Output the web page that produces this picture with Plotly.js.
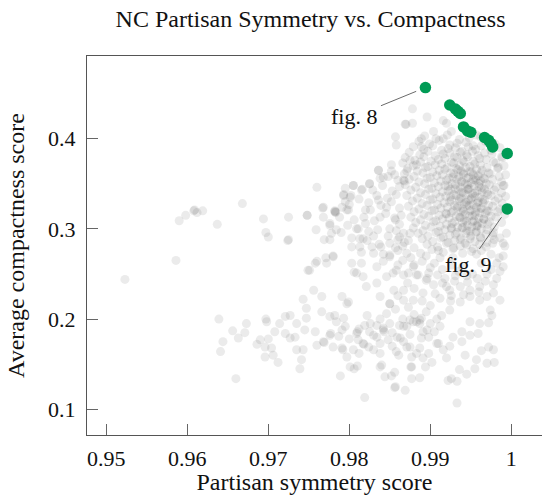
<!DOCTYPE html>
<html>
<head>
<meta charset="utf-8">
<script src="https://cdn.plot.ly/plotly-3.0.1.min.js"></script>
<style>html,body{margin:0;padding:0;background:#fff;}#chart{width:542px;height:495px;}</style>
</head>
<body>
<div id="chart"></div>
<script>
// ---- Data: [partisan symmetry score, average compactness score] per sampled plan ----
const leftTail = [
[0.9523,0.244],[0.9586,0.265],[0.9590,0.309],[0.9598,0.315],[0.9608,0.320],[0.9609,0.321],[0.9612,0.318],[0.9619,0.320],
[0.9637,0.305],[0.9668,0.328],[0.9694,0.311],[0.9697,0.296],[0.9700,0.291],[0.9724,0.287],[0.9725,0.288],[0.9725,0.313],
[0.9748,0.315],[0.9760,0.346],[0.9767,0.323],[0.9768,0.313],[0.9759,0.299],[0.9751,0.254],[0.9758,0.262],[0.9771,0.268],
[0.9780,0.270],[0.9776,0.288],[0.9769,0.288],[0.9778,0.295],[0.9784,0.299],[0.9776,0.306],[0.9783,0.319],[0.9782,0.320],
[0.9791,0.324],[0.9799,0.321],[0.9793,0.338],[0.9802,0.337],[0.9805,0.348],[0.9816,0.344],[0.9825,0.350],[0.9836,0.365],
[0.9852,0.371],[0.9809,0.300],[0.9817,0.289],[0.9813,0.280],[0.9803,0.262],[0.9806,0.252],[0.9817,0.247],[0.9830,0.273],
[0.9839,0.280],[0.9842,0.264],[0.9850,0.271],[0.9860,0.276],[0.9867,0.249],[0.9885,0.249],[0.9791,0.225],[0.9797,0.217],
[0.9799,0.219],[0.9756,0.232],[0.9766,0.225],[0.9743,0.222],[0.9747,0.212],[0.9766,0.208],[0.9776,0.203],[0.9782,0.204],
[0.9793,0.201],[0.9821,0.236],[0.9838,0.225],[0.9850,0.217],[0.9867,0.221]
];
const lowerBand = [
[0.9639,0.200],[0.9660,0.134],[0.9641,0.164],[0.9644,0.175],[0.9656,0.187],[0.9663,0.179],[0.9671,0.185],[0.9673,0.195],
[0.9686,0.172],[0.9690,0.177],[0.9696,0.169],[0.9696,0.158],[0.9700,0.178],[0.9697,0.200],[0.9698,0.197],[0.9704,0.168],
[0.9706,0.160],[0.9712,0.152],[0.9708,0.186],[0.9714,0.195],[0.9721,0.203],[0.9727,0.204],[0.9721,0.184],[0.9727,0.179],
[0.9733,0.180],[0.9735,0.195],[0.9735,0.166],[0.9741,0.155],[0.9739,0.145],[0.9743,0.166],[0.9745,0.188],[0.9747,0.201],
[0.9758,0.186],[0.9760,0.171],[0.9768,0.175],[0.9769,0.174],[0.9776,0.182],[0.9777,0.184],[0.9780,0.169],[0.9784,0.197],
[0.9791,0.188],[0.9791,0.168],[0.9792,0.166],[0.9797,0.158],[0.9801,0.147],[0.9809,0.184],[0.9810,0.186],[0.9811,0.177],
[0.9817,0.173],[0.9818,0.172],[0.9805,0.166],[0.9819,0.193],[0.9826,0.195],[0.9830,0.182],[0.9838,0.173],[0.9842,0.188],
[0.9843,0.186],[0.9850,0.195],[0.9846,0.206],[0.9859,0.180],[0.9867,0.175],[0.9871,0.192],[0.9879,0.197],[0.9887,0.195],
[0.9896,0.188],[0.9830,0.166],[0.9838,0.162],[0.9861,0.160],[0.9875,0.169],[0.9883,0.162],[0.9891,0.157],[0.9838,0.147],
[0.9844,0.136],[0.9852,0.137],[0.9856,0.141],[0.9877,0.147],[0.9877,0.134],[0.9887,0.135],[0.9856,0.124],[0.9857,0.125],
[0.9869,0.121],[0.9819,0.113],[0.9789,0.137],[0.9806,0.145],[0.9810,0.148],[0.9908,0.173],[0.9916,0.166],[0.9922,0.132],
[0.9812,0.189],[0.9825,0.186],[0.9800,0.178],[0.9787,0.181],[0.9795,0.192],[0.9834,0.193],[0.9853,0.185],[0.9862,0.193],
[0.9875,0.183],[0.9889,0.179],[0.9898,0.180],[0.9905,0.186],[0.9853,0.170],[0.9824,0.169],[0.9812,0.162],[0.9866,0.200],
[0.9880,0.205],[0.9895,0.208],[0.9908,0.200],[0.9838,0.200],[0.9822,0.204],[0.9857,0.211],[0.9873,0.213],[0.9900,0.215]
];
const lowerRight = [
[0.9933,0.107],[0.9840,0.149],[0.9876,0.147],[0.9894,0.147],[0.9902,0.152],[0.9926,0.134],[0.9933,0.131],[0.9936,0.144],
[0.9945,0.139],[0.9955,0.145],[0.9957,0.155],[0.9970,0.151],[0.9979,0.152],[0.9972,0.169],[0.9978,0.166],[0.9963,0.165],
[0.9943,0.160],[0.9920,0.157],[0.9910,0.173],[0.9924,0.170],[0.9939,0.175],[0.9949,0.182],[0.9959,0.184],[0.9939,0.186],
[0.9928,0.180],[0.9949,0.197],[0.9961,0.195],[0.9972,0.196],[0.9974,0.210],[0.9976,0.204],[0.9986,0.221],[0.9978,0.229],
[0.9961,0.221],[0.9949,0.225],[0.9937,0.219],[0.9924,0.210],[0.9914,0.204],[0.9912,0.192],[0.9900,0.195],[0.9891,0.186],
[0.9883,0.197],[0.9875,0.199],[0.9867,0.192],[0.9863,0.179],[0.9842,0.190],[0.9848,0.177],[0.9871,0.169],[0.9887,0.168],
[0.9898,0.162],[0.9877,0.158],[0.9858,0.164]
];
const middleBand = [
[0.9834,0.240],[0.9846,0.247],[0.9858,0.254],[0.9873,0.251],[0.9883,0.249],[0.9867,0.232],[0.9879,0.221],[0.9891,0.229],
[0.9904,0.238],[0.9918,0.245],[0.9924,0.232],[0.9937,0.236],[0.9949,0.232],[0.9961,0.236],[0.9970,0.225],[0.9850,0.217],
[0.9887,0.199],[0.9889,0.201],[0.9834,0.180],[0.9905,0.262],[0.9915,0.255],[0.9928,0.268],[0.9940,0.258],[0.9952,0.250],
[0.9963,0.262],[0.9975,0.255],[0.9982,0.245],[0.9968,0.242],[0.9931,0.248],[0.9895,0.270],[0.9910,0.276],[0.9957,0.272],
[0.9985,0.268],[0.9990,0.258],[0.9946,0.241],[0.9920,0.236],[0.9898,0.251],[0.9978,0.238],[0.9992,0.281],[0.9912,0.223],
[0.9926,0.226],[0.9890,0.220],[0.9860,0.226],[0.9872,0.240],[0.9895,0.243],[0.9862,0.291],[0.9875,0.295],[0.9868,0.285],
[0.9880,0.279],[0.9888,0.273],[0.9876,0.268],[0.9890,0.264],[0.9880,0.260],[0.9866,0.265],[0.9860,0.260],[0.9900,0.257],
[0.9912,0.268],[0.9926,0.260],[0.9896,0.245],[0.9909,0.249],[0.9935,0.253],[0.9915,0.240],[0.9930,0.242],[0.9945,0.248],
[0.9958,0.245],[0.9970,0.250],[0.9982,0.262],[0.9990,0.270],[0.9986,0.253],[0.9960,0.230],[0.9941,0.227],[0.9925,0.220],
[0.9906,0.228],[0.9880,0.234],[0.9855,0.232]
];
const upperShoulder = [
[0.9878,0.433],[0.9896,0.424],[0.9870,0.416],[0.9878,0.417],[0.9904,0.408],[0.9858,0.393],[0.9889,0.391],[0.9875,0.376],
[0.9883,0.371],[0.9871,0.364],[0.9852,0.364],[0.9836,0.365],[0.9838,0.356],[0.9848,0.358],[0.9856,0.360],[0.9867,0.354],
[0.9868,0.353],[0.9825,0.350],[0.9815,0.343],[0.9805,0.348],[0.9795,0.345],[0.9793,0.337],[0.9801,0.335],[0.9768,0.324],
[0.9748,0.315],[0.9782,0.319],[0.9783,0.318],[0.9776,0.304],[0.9797,0.321],[0.9811,0.300],[0.9826,0.321],[0.9836,0.332],
[0.9846,0.324],[0.9838,0.313],[0.9856,0.312],[0.9857,0.310],[0.9824,0.297],[0.9813,0.289],[0.9828,0.280],[0.9850,0.284],
[0.9850,0.300],[0.9867,0.295],[0.9803,0.280],[0.9780,0.269],[0.9760,0.264],[0.9749,0.254],[0.9772,0.262],[0.9815,0.262],
[0.9834,0.258],[0.9850,0.269],[0.9871,0.273],[0.9879,0.258],[0.9854,0.251],[0.9809,0.251],
[0.9829,0.343],[0.9841,0.348],[0.9853,0.342],[0.9862,0.347],[0.9834,0.337],[0.9847,0.334],[0.9858,0.338],[0.9824,0.329],
[0.9839,0.326],[0.9852,0.330],[0.9862,0.323],[0.9818,0.313],[0.9831,0.309],[0.9845,0.317],[0.9862,0.305],[0.9820,0.306],
[0.9835,0.299],[0.9848,0.292],[0.9860,0.288],[0.9806,0.310],[0.9798,0.304],[0.9790,0.296],[0.9803,0.290],[0.9822,0.287],
[0.9837,0.283],[0.9857,0.279],[0.9842,0.357],[0.9860,0.354],[0.9812,0.333],[0.9820,0.321],[0.9800,0.327],[0.9788,0.313],
[0.9795,0.330],[0.9864,0.315],[0.9858,0.298],[0.9830,0.292],[0.9873,0.287],[0.9866,0.281],[0.9815,0.274],[0.9842,0.272]
];
const topScatter = [
[0.9869,0.416],[0.9857,0.402],[0.9889,0.400],[0.9916,0.420],[0.9920,0.417],[0.9926,0.408],[0.9916,0.400],[0.9957,0.404],
[0.9984,0.368],[0.9990,0.348],[0.9994,0.295],[0.9990,0.284]
];
const denseCore = [
[0.9893,0.403],[0.9907,0.400],[0.9921,0.404],[0.9936,0.399],[0.9948,0.401],[0.9962,0.402],
[0.9886,0.397],[0.9899,0.394],[0.9911,0.398],[0.9924,0.393],[0.9933,0.395],[0.9944,0.396],[0.9953,0.392],[0.9968,0.397],[0.9980,0.394],
[0.9879,0.391],[0.9892,0.388],[0.9903,0.392],[0.9914,0.387],[0.9922,0.389],[0.9931,0.390],[0.9939,0.386],[0.9947,0.391],[0.9956,0.388],[0.9963,0.392],[0.9975,0.387],[0.9986,0.390],
[0.9874,0.385],[0.9887,0.382],[0.9897,0.386],[0.9906,0.381],[0.9916,0.383],[0.9924,0.384],[0.9930,0.380],[0.9937,0.385],[0.9945,0.382],[0.9952,0.386],[0.9959,0.381],[0.9967,0.384],[0.9976,0.383],[0.9988,0.380],
[0.9869,0.379],[0.9881,0.376],[0.9892,0.380],[0.9901,0.375],[0.9910,0.377],[0.9918,0.378],[0.9926,0.374],[0.9933,0.379],[0.9940,0.376],[0.9946,0.380],[0.9953,0.375],[0.9961,0.378],[0.9969,0.377],[0.9978,0.374],[0.9989,0.379],
[0.9866,0.373],[0.9879,0.370],[0.9888,0.374],[0.9897,0.369],[0.9906,0.371],[0.9914,0.372],[0.9921,0.368],[0.9929,0.373],[0.9936,0.370],[0.9942,0.374],[0.9949,0.369],[0.9955,0.372],[0.9962,0.371],[0.9970,0.368],[0.9981,0.373],[0.9991,0.370],
[0.9872,0.367],[0.9884,0.364],[0.9894,0.368],[0.9903,0.363],[0.9911,0.365],[0.9918,0.366],[0.9925,0.362],[0.9932,0.367],[0.9938,0.364],[0.9944,0.368],[0.9951,0.363],[0.9957,0.366],[0.9964,0.365],[0.9972,0.362],[0.9983,0.367],
[0.9868,0.361],[0.9880,0.358],[0.9891,0.362],[0.9900,0.357],[0.9908,0.359],[0.9915,0.360],[0.9923,0.356],[0.9929,0.361],[0.9935,0.358],[0.9941,0.362],[0.9947,0.357],[0.9953,0.360],[0.9959,0.359],[0.9966,0.356],[0.9974,0.361],[0.9985,0.358],[0.9993,0.360],
[0.9874,0.355],[0.9886,0.352],[0.9896,0.356],[0.9905,0.351],[0.9913,0.353],[0.9920,0.354],[0.9927,0.350],[0.9933,0.355],[0.9939,0.352],[0.9945,0.356],[0.9950,0.351],[0.9956,0.354],[0.9962,0.353],[0.9969,0.350],[0.9977,0.355],[0.9988,0.352],
[0.9869,0.349],[0.9882,0.346],[0.9893,0.350],[0.9902,0.345],[0.9910,0.347],[0.9918,0.348],[0.9925,0.344],[0.9931,0.349],[0.9937,0.346],[0.9943,0.350],[0.9948,0.345],[0.9954,0.348],[0.9960,0.347],[0.9967,0.344],[0.9973,0.349],[0.9981,0.346],[0.9991,0.348],
[0.9876,0.343],[0.9888,0.340],[0.9898,0.344],[0.9907,0.339],[0.9915,0.341],[0.9922,0.342],[0.9929,0.338],[0.9935,0.343],[0.9941,0.340],[0.9946,0.344],[0.9952,0.339],[0.9958,0.342],[0.9964,0.341],[0.9971,0.338],[0.9979,0.343],[0.9988,0.340],
[0.9871,0.337],[0.9884,0.334],[0.9894,0.338],[0.9903,0.333],[0.9912,0.335],[0.9919,0.336],[0.9926,0.332],[0.9932,0.337],[0.9938,0.334],[0.9944,0.338],[0.9950,0.333],[0.9955,0.336],[0.9961,0.335],[0.9967,0.332],[0.9975,0.337],[0.9984,0.334],[0.9993,0.336],
[0.9878,0.331],[0.9890,0.328],[0.9900,0.332],[0.9909,0.327],[0.9917,0.329],[0.9924,0.330],[0.9930,0.326],[0.9936,0.331],[0.9942,0.328],[0.9947,0.332],[0.9953,0.327],[0.9959,0.330],[0.9965,0.329],[0.9972,0.326],[0.9980,0.331],[0.9989,0.328],
[0.9873,0.325],[0.9886,0.322],[0.9896,0.326],[0.9905,0.321],[0.9913,0.323],[0.9921,0.324],[0.9928,0.320],[0.9934,0.325],[0.9940,0.322],[0.9945,0.326],[0.9951,0.321],[0.9957,0.324],[0.9963,0.323],[0.9970,0.320],[0.9977,0.325],[0.9986,0.322],
[0.9880,0.319],[0.9892,0.316],[0.9902,0.320],[0.9911,0.315],[0.9919,0.317],[0.9926,0.318],[0.9932,0.314],[0.9938,0.319],[0.9943,0.316],[0.9949,0.320],[0.9955,0.315],[0.9961,0.318],[0.9968,0.317],[0.9975,0.314],[0.9983,0.319],[0.9992,0.316],
[0.9876,0.313],[0.9888,0.310],[0.9898,0.314],[0.9907,0.309],[0.9915,0.311],[0.9923,0.312],[0.9930,0.308],[0.9936,0.313],[0.9942,0.310],[0.9948,0.314],[0.9954,0.309],[0.9960,0.312],[0.9966,0.311],[0.9973,0.308],[0.9981,0.313],
[0.9882,0.307],[0.9894,0.304],[0.9904,0.308],[0.9912,0.303],[0.9920,0.305],[0.9927,0.306],[0.9934,0.302],[0.9940,0.307],[0.9946,0.304],[0.9952,0.308],[0.9958,0.303],[0.9964,0.306],[0.9971,0.305],[0.9979,0.302],[0.9988,0.307],
[0.9879,0.301],[0.9891,0.298],[0.9901,0.302],[0.9910,0.297],[0.9918,0.299],[0.9926,0.300],[0.9933,0.296],[0.9939,0.301],[0.9945,0.298],[0.9951,0.302],[0.9957,0.297],[0.9963,0.300],[0.9970,0.299],[0.9978,0.296],
[0.9885,0.295],[0.9897,0.292],[0.9907,0.296],[0.9916,0.291],[0.9924,0.293],[0.9931,0.294],[0.9938,0.290],[0.9944,0.295],[0.9950,0.292],[0.9956,0.296],[0.9962,0.291],[0.9969,0.294],[0.9977,0.293],[0.9986,0.290],
[0.9890,0.289],[0.9903,0.286],[0.9913,0.290],[0.9922,0.285],[0.9930,0.287],[0.9937,0.288],[0.9943,0.284],[0.9949,0.289],[0.9955,0.286],[0.9962,0.290],[0.9970,0.285],[0.9979,0.288],
[0.9896,0.283],[0.9909,0.280],[0.9920,0.284],[0.9929,0.279],[0.9937,0.281],[0.9945,0.282],[0.9953,0.278],[0.9961,0.283],[0.9969,0.280],[0.9977,0.284],
[0.9902,0.277],[0.9916,0.274],[0.9928,0.278],[0.9940,0.273],[0.9951,0.275],[0.9963,0.276],[0.9975,0.272],
[0.9934,0.3655],[0.9941,0.3605],[0.9949,0.3635],[0.9956,0.3565],[0.9962,0.3615],[0.9938,0.3525],[0.9946,0.3485],[0.9953,0.3545],
[0.9960,0.3505],[0.9931,0.3445],[0.9939,0.3405],[0.9947,0.3435],[0.9955,0.3395],[0.9963,0.3455],[0.9936,0.3335],[0.9944,0.3295],
[0.9951,0.3345],[0.9958,0.3285],[0.9965,0.3325],[0.9933,0.3235],[0.9941,0.3195],[0.9948,0.3255],[0.9956,0.3185],[0.9962,0.3225],
[0.9937,0.3125],[0.9945,0.3085],[0.9952,0.3145],[0.9959,0.3065],[0.9966,0.3105],[0.9940,0.3015],[0.9949,0.2975],[0.9957,0.3035],
[0.9925,0.3355],[0.9922,0.3475],[0.9970,0.3405],[0.9972,0.3195],[0.9920,0.3165],[0.9928,0.3575],[0.9967,0.3555],[0.9926,0.3015]
];
// Highlighted (best) plans
const bestSymmetry   = [0.9894,0.9924,0.9931,0.9934,0.9937,0.9941,0.9946,0.9950,0.9967,0.9972,0.9975,0.9977,0.9995,0.9995];
const bestCompactness= [0.4566,0.4373,0.4329,0.4303,0.4278,0.4130,0.4085,0.4071,0.4012,0.3982,0.3946,0.3908,0.3835,0.3221];
// Labelled plans: index into best arrays
const figLabels  = ['fig. 8','fig. 9'];
const figIndex   = [0, 13];
const xTickVals  = [0.95,0.96,0.97,0.98,0.99,1];
const xTickText  = ['0.95','0.96','0.97','0.98','0.99','1'];
const yTickVals  = [0.1,0.2,0.3,0.4];
const yTickText  = ['0.1','0.2','0.3','0.4'];

const allPlans = [].concat(leftTail, lowerBand, lowerRight, middleBand, upperShoulder, topScatter, denseCore);
const symmetry = allPlans.map(p => p[0]);
const compactness = allPlans.map(p => p[1]);

const FONT = 'Liberation Serif, Times New Roman, serif';

const traces = [
  {type:'scatter', mode:'markers', x:symmetry, y:compactness,
   marker:{size:9, color:'rgba(70,70,70,0.105)', line:{width:0}}, hoverinfo:'skip'},
  {type:'scatter', mode:'markers', x:bestSymmetry, y:bestCompactness,
   marker:{size:11.5, color:'#009b55', line:{width:0}}, hoverinfo:'skip'}
];

const labelOffsets = [[-71, 29], [-39, 56]];
const annotations = figLabels.map((t, i) => ({
  x: bestSymmetry[figIndex[i]], y: bestCompactness[figIndex[i]], xref:'x', yref:'y',
  text: t, showarrow:true, arrowhead:0, arrowwidth:1, arrowcolor:'#6a6a6a',
  ax: labelOffsets[i][0], ay: labelOffsets[i][1], standoff:10, borderpad:3,
  font:{family:FONT, size:22, color:'#111'}
}));

const layout = {
  width:542, height:495,
  margin:{l:87, r:0, t:56, b:60},
  paper_bgcolor:'#fff', plot_bgcolor:'#fff',
  showlegend:false, hovermode:false,
  title:{text:'NC Partisan Symmetry vs. Compactness', font:{family:FONT, size:24, color:'#111'},
         xref:'container', yref:'container', x:0.573, xanchor:'center', y:0.963, yanchor:'middle'},
  xaxis:{range:[0.947617,1.00379], tickvals:xTickVals, ticktext:xTickText,
         ticks:'inside', ticklen:11, tickwidth:1, tickcolor:'#666',
         showline:true, linecolor:'#555', linewidth:1.2, mirror:true, showgrid:false, zeroline:false,
         tickfont:{family:FONT, size:22, color:'#111'}, ticklabelstandoff:3,
         title:{text:'Partisan symmetry score', font:{family:FONT, size:24, color:'#111'}, standoff:8}},
  yaxis:{range:[0.07154,0.49158], tickvals:yTickVals, ticktext:yTickText,
         ticks:'inside', ticklen:11, tickwidth:1, tickcolor:'#666',
         showline:true, linecolor:'#555', linewidth:1.2, mirror:false, showgrid:false, zeroline:false,
         tickfont:{family:FONT, size:22, color:'#111'}, ticklabelstandoff:6,
         title:{text:'Average compactness score', font:{family:FONT, size:24, color:'#111'}, standoff:16}},
  annotations: annotations
};

Plotly.newPlot('chart', traces, layout, {staticPlot:true, displayModeBar:false});
</script>
</body>
</html>
